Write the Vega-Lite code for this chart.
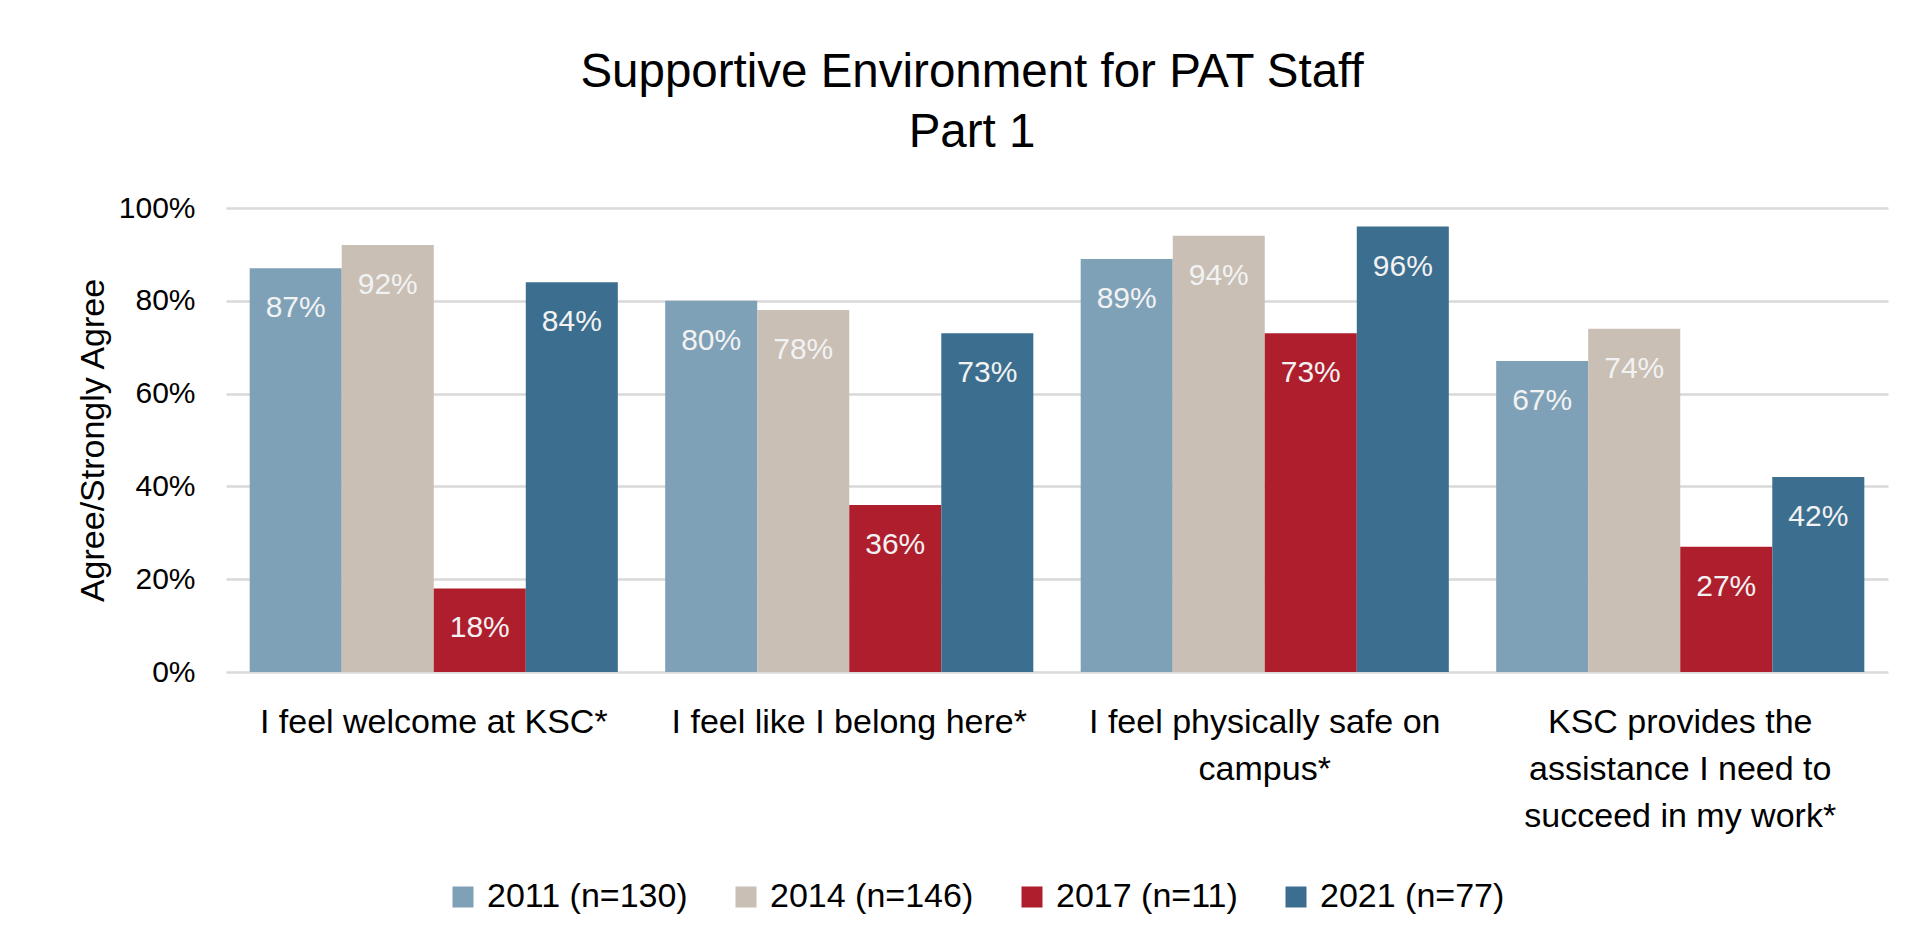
{
  "$schema": "https://vega.github.io/schema/vega-lite/v6.json",
  "width": 1662,
  "height": 464,
  "autosize": {"type": "none"},
  "padding": {"left": 226, "top": 208, "right": 28, "bottom": 276},
  "background": "white",
  "config": {"font": "Liberation Sans", "view": {"stroke": null}},
  "title": {
    "text": ["Supportive Environment for PAT Staff", "Part 1"],
    "fontSize": 47.5,
    "fontWeight": "normal",
    "color": "#000000",
    "lineHeight": 60,
    "dx": -85,
    "offset": 37,
    "anchor": "middle"
  },
  "data": {
    "values": [
      {"item": "I feel welcome at KSC*", "year": "2011 (n=130)", "value": 0.87},
      {"item": "I feel welcome at KSC*", "year": "2014 (n=146)", "value": 0.92},
      {"item": "I feel welcome at KSC*", "year": "2017 (n=11)", "value": 0.18},
      {"item": "I feel welcome at KSC*", "year": "2021 (n=77)", "value": 0.84},
      {"item": "I feel like I belong here*", "year": "2011 (n=130)", "value": 0.80},
      {"item": "I feel like I belong here*", "year": "2014 (n=146)", "value": 0.78},
      {"item": "I feel like I belong here*", "year": "2017 (n=11)", "value": 0.36},
      {"item": "I feel like I belong here*", "year": "2021 (n=77)", "value": 0.73},
      {"item": "I feel physically safe on|campus*", "year": "2011 (n=130)", "value": 0.89},
      {"item": "I feel physically safe on|campus*", "year": "2014 (n=146)", "value": 0.94},
      {"item": "I feel physically safe on|campus*", "year": "2017 (n=11)", "value": 0.73},
      {"item": "I feel physically safe on|campus*", "year": "2021 (n=77)", "value": 0.96},
      {"item": "KSC provides the|assistance I need to|succeed in my work*", "year": "2011 (n=130)", "value": 0.67},
      {"item": "KSC provides the|assistance I need to|succeed in my work*", "year": "2014 (n=146)", "value": 0.74},
      {"item": "KSC provides the|assistance I need to|succeed in my work*", "year": "2017 (n=11)", "value": 0.27},
      {"item": "KSC provides the|assistance I need to|succeed in my work*", "year": "2021 (n=77)", "value": 0.42}
    ]
  },
  "encoding": {
    "x": {
      "field": "item",
      "type": "nominal",
      "sort": null,
      "scale": {"paddingInner": 0.114, "paddingOuter": 0.057},
      "axis": {
        "title": null,
        "labelExpr": "split(datum.label, '|')",
        "labelAngle": 0,
        "labelFontSize": 34,
        "labelLineHeight": 47,
        "labelPadding": 33,
        "labelColor": "#000000",
        "labelLimit": 0,
        "domain": false,
        "ticks": false
      }
    },
    "xOffset": {"field": "year", "type": "nominal", "sort": null, "scale": {"paddingInner": 0, "paddingOuter": 0}},
    "y": {
      "field": "value",
      "type": "quantitative",
      "scale": {"domain": [0, 1]},
      "axis": {
        "title": "Agree/Strongly Agree",
        "format": ".0%",
        "values": [0, 0.2, 0.4, 0.6, 0.8, 1],
        "labelFontSize": 30,
        "labelColor": "#000000",
        "labelPadding": 31,
        "titleFontSize": 34,
        "titleFontWeight": "normal",
        "titleColor": "#000000",
        "titlePadding": 8,
        "gridColor": "#D9D9D9",
        "gridWidth": 2.5,
        "domain": false,
        "ticks": false
      }
    }
  },
  "layer": [
    {
      "mark": {"type": "bar"},
      "encoding": {
        "color": {
          "field": "year",
          "type": "nominal",
          "sort": null,
          "scale": {
            "domain": ["2011 (n=130)", "2014 (n=146)", "2017 (n=11)", "2021 (n=77)"],
            "range": ["#7FA1B7", "#C9BFB5", "#AF1E2D", "#3C6E8F"]
          },
          "legend": {
            "title": null,
            "orient": "none",
            "legendX": 220,
            "legendY": 672,
            "direction": "horizontal",
            "symbolType": "square",
            "symbolSize": 441,
            "symbolStrokeWidth": 0,
            "labelFontSize": 34,
            "labelColor": "#000000",
            "labelOffset": 7,
            "columnPadding": 41,
            "labelLimit": 0
          }
        }
      }
    },
    {
      "mark": {"type": "text", "baseline": "middle", "dy": 40, "fontSize": 30, "color": "#F2F2F2"},
      "encoding": {
        "text": {"field": "value", "type": "quantitative", "format": ".0%"}
      }
    }
  ]
}
